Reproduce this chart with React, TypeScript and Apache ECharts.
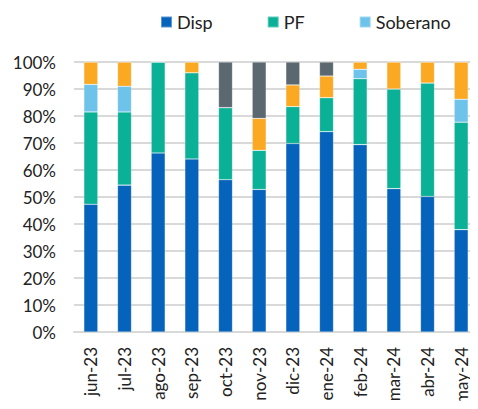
import React, { useEffect, useRef } from "react";
import * as echarts from "echarts";

const categories = ["jun-23", "jul-23", "ago-23", "sep-23", "oct-23", "nov-23", "dic-23", "ene-24", "feb-24", "mar-24", "abr-24", "may-24"];
const disp = [47.3, 54.4, 66.3, 64.1, 56.4, 52.8, 69.8, 74.2, 69.4, 53.1, 50.2, 37.9];
const pf = [34.2, 27.1, 33.7, 31.9, 26.7, 14.5, 13.7, 12.6, 24.4, 36.9, 42.0, 39.8];
const soberano = [10.2, 9.5, 0, 0, 0, 0, 0, 0, 3.5, 0, 0, 8.5];
const otros = [8.3, 9.0, 0, 4.0, 0, 11.8, 8.0, 8.0, 2.7, 10.0, 7.8, 13.8];
const resto = [0, 0, 0, 0, 16.9, 20.9, 8.5, 5.2, 0, 0, 0, 0];
const yTicks = [0, 10, 20, 30, 40, 50, 60, 70, 80, 90, 100];

export default function App() {
  const ref = useRef<HTMLDivElement>(null);
  useEffect(() => {
    if (!ref.current) return;
    const chart = echarts.init(ref.current, undefined, { renderer: "svg" });
    const font = "Lato, 'Open Sans', sans-serif";
    const mk = (name: string, data: number[], color: string) => ({
      name,
      type: "bar",
      stack: "total",
      data,
      barWidth: 14,
      itemStyle: { color, borderColor: "rgba(255,255,255,0.35)", borderWidth: 0.6 },
    });
    chart.setOption({
      animation: false,
      textStyle: { fontFamily: font },
      legend: {
        data: ["Disp", "PF", "Soberano"],
        left: 155,
        top: 8,
        itemWidth: 11,
        itemHeight: 11,
        itemGap: 54,
        icon: "rect",
        textStyle: { fontSize: 18, color: "#222", fontFamily: font },
      },
      grid: { left: 74, top: 62, width: 410, height: 270, containLabel: false },
      xAxis: {
        type: "category",
        data: categories,
        axisTick: { show: false },
        axisLine: { lineStyle: { color: "#d9d9d9", width: 2 } },
        axisLabel: { rotate: 90, fontSize: 17, color: "#222", margin: 15, fontFamily: font },
      },
      yAxis: {
        type: "value",
        min: yTicks[0],
        max: yTicks[yTicks.length - 1],
        interval: 10,
        axisLabel: { formatter: "{value}%", fontSize: 17, color: "#222", margin: 18, fontFamily: font },
        splitLine: { lineStyle: { color: "#d9d9d9", width: 2 } },
        axisLine: { show: false },
        axisTick: { show: false },
      },
      series: [
        mk("Disp", disp, "#0563BB"),
        mk("PF", pf, "#0BB196"),
        mk("Soberano", soberano, "#6EC3EA"),
        mk("Otros", otros, "#FBA823"),
        mk("Resto", resto, "#5B6870"),
      ],
    });
    return () => chart.dispose();
  }, []);
  return <div ref={ref} style={{ width: 478, height: 409, margin: -8 }} />;
}
